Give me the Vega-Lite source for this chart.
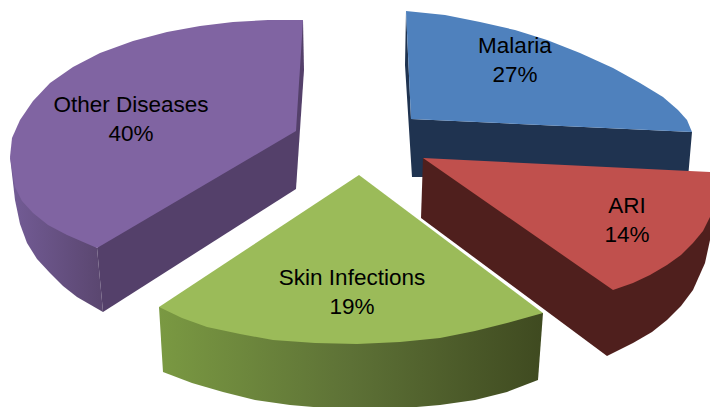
{
  "$schema": "https://vega.github.io/schema/vega-lite/v6.json",
  "width": 710,
  "height": 407,
  "padding": 0,
  "autosize": {"type": "none"},
  "background": "white",
  "config": {"view": {"stroke": null}},
  "datasets": {
    "faces": [
      {"face":"Malaria wall","seq":1,"x":406,"y":11},{"face":"Malaria wall","seq":2,"x":405,"y":65},{"face":"Malaria wall","seq":3,"x":412,"y":177},{"face":"Malaria wall","seq":4,"x":688,"y":178},{"face":"Malaria wall","seq":5,"x":692,"y":132},{"face":"Malaria wall","seq":6,"x":411,"y":119},

      {"face":"Malaria top","seq":1,"x":406,"y":11},{"face":"Malaria top","seq":2,"x":445,"y":15},{"face":"Malaria top","seq":3,"x":480,"y":22},{"face":"Malaria top","seq":4,"x":515,"y":30},{"face":"Malaria top","seq":5,"x":547,"y":40},{"face":"Malaria top","seq":6,"x":580,"y":53},{"face":"Malaria top","seq":7,"x":613,"y":68},{"face":"Malaria top","seq":8,"x":640,"y":83},{"face":"Malaria top","seq":9,"x":663,"y":97},{"face":"Malaria top","seq":10,"x":678,"y":110},{"face":"Malaria top","seq":11,"x":687,"y":120},{"face":"Malaria top","seq":12,"x":692,"y":132},{"face":"Malaria top","seq":13,"x":411,"y":119},

      {"face":"ARI wall","seq":1,"x":423,"y":158},{"face":"ARI wall","seq":2,"x":421,"y":218},{"face":"ARI wall","seq":3,"x":607,"y":356},{"face":"ARI wall","seq":4,"x":633,"y":343},{"face":"ARI wall","seq":5,"x":652,"y":332},{"face":"ARI wall","seq":6,"x":667,"y":320},{"face":"ARI wall","seq":7,"x":681,"y":306},{"face":"ARI wall","seq":8,"x":693,"y":290},{"face":"ARI wall","seq":9,"x":705,"y":263},{"face":"ARI wall","seq":10,"x":710,"y":240},{"face":"ARI wall","seq":11,"x":710,"y":200},

      {"face":"ARI top","seq":1,"x":423,"y":158},{"face":"ARI top","seq":2,"x":710,"y":172},{"face":"ARI top","seq":3,"x":710,"y":217},{"face":"ARI top","seq":4,"x":703,"y":231},{"face":"ARI top","seq":5,"x":693,"y":243},{"face":"ARI top","seq":6,"x":681,"y":255},{"face":"ARI top","seq":7,"x":667,"y":265},{"face":"ARI top","seq":8,"x":650,"y":275},{"face":"ARI top","seq":9,"x":633,"y":283},{"face":"ARI top","seq":10,"x":613,"y":290},

      {"face":"Other curved wall","seq":1,"x":10,"y":157},{"face":"Other curved wall","seq":2,"x":15,"y":200},{"face":"Other curved wall","seq":3,"x":20,"y":224},{"face":"Other curved wall","seq":4,"x":27,"y":243},{"face":"Other curved wall","seq":5,"x":37,"y":259},{"face":"Other curved wall","seq":6,"x":50,"y":273},{"face":"Other curved wall","seq":7,"x":63,"y":286},{"face":"Other curved wall","seq":8,"x":77,"y":297},{"face":"Other curved wall","seq":9,"x":103,"y":312},{"face":"Other curved wall","seq":10,"x":97,"y":248},

      {"face":"Other cut wall","seq":1,"x":97,"y":248},{"face":"Other cut wall","seq":2,"x":103,"y":312},{"face":"Other cut wall","seq":3,"x":296,"y":189},{"face":"Other cut wall","seq":4,"x":304,"y":70},{"face":"Other cut wall","seq":5,"x":303,"y":20},

      {"face":"Other top","seq":1,"x":303,"y":20},{"face":"Other top","seq":2,"x":268,"y":20},{"face":"Other top","seq":3,"x":233,"y":22},{"face":"Other top","seq":4,"x":200,"y":26},{"face":"Other top","seq":5,"x":167,"y":32},{"face":"Other top","seq":6,"x":133,"y":41},{"face":"Other top","seq":7,"x":100,"y":53},{"face":"Other top","seq":8,"x":73,"y":67},{"face":"Other top","seq":9,"x":50,"y":83},{"face":"Other top","seq":10,"x":33,"y":101},{"face":"Other top","seq":11,"x":20,"y":120},{"face":"Other top","seq":12,"x":12,"y":138},{"face":"Other top","seq":13,"x":10,"y":157},{"face":"Other top","seq":14,"x":15,"y":187},{"face":"Other top","seq":15,"x":22,"y":201},{"face":"Other top","seq":16,"x":33,"y":213},{"face":"Other top","seq":17,"x":48,"y":225},{"face":"Other top","seq":18,"x":67,"y":235},{"face":"Other top","seq":19,"x":97,"y":248},{"face":"Other top","seq":20,"x":296,"y":131},

      {"face":"Skin wall","seq":1,"x":159,"y":307},{"face":"Skin wall","seq":2,"x":163,"y":372},{"face":"Skin wall","seq":3,"x":192,"y":383},{"face":"Skin wall","seq":4,"x":223,"y":392},{"face":"Skin wall","seq":5,"x":255,"y":400},{"face":"Skin wall","seq":6,"x":290,"y":405},{"face":"Skin wall","seq":7,"x":325,"y":408},{"face":"Skin wall","seq":8,"x":365,"y":409},{"face":"Skin wall","seq":9,"x":405,"y":408},{"face":"Skin wall","seq":10,"x":440,"y":405},{"face":"Skin wall","seq":11,"x":475,"y":400},{"face":"Skin wall","seq":12,"x":507,"y":392},{"face":"Skin wall","seq":13,"x":538,"y":380},{"face":"Skin wall","seq":14,"x":543,"y":313},

      {"face":"Skin top","seq":1,"x":359,"y":175},{"face":"Skin top","seq":2,"x":159,"y":307},{"face":"Skin top","seq":3,"x":182,"y":318},{"face":"Skin top","seq":4,"x":207,"y":327},{"face":"Skin top","seq":5,"x":240,"y":334},{"face":"Skin top","seq":6,"x":273,"y":340},{"face":"Skin top","seq":7,"x":315,"y":343},{"face":"Skin top","seq":8,"x":357,"y":344},{"face":"Skin top","seq":9,"x":400,"y":342},{"face":"Skin top","seq":10,"x":440,"y":338},{"face":"Skin top","seq":11,"x":475,"y":331},{"face":"Skin top","seq":12,"x":507,"y":323},{"face":"Skin top","seq":13,"x":543,"y":313}
    ],
    "shares": [
      {"slice":"Malaria","share":27,"x":515,"y":46},
      {"slice":"ARI","share":14,"x":627,"y":206},
      {"slice":"Skin Infections","share":19,"x":352,"y":278},
      {"slice":"Other Diseases","share":40,"x":131,"y":105}
    ]
  },
  "encoding": {
    "x": {"field": "x", "type": "quantitative", "scale": {"domain": [0, 710], "nice": false, "zero": false}, "axis": null},
    "y": {"field": "y", "type": "quantitative", "scale": {"domain": [407, 0], "nice": false, "zero": false}, "axis": null}
  },
  "layer": [
    {
      "data": {"name": "faces"},
      "transform": [{"filter": "datum.face === 'Other curved wall'"}],
      "mark": {"type": "line", "strokeWidth": 0, "interpolate": "linear-closed", "fill": {"gradient": "linear", "x1": 0, "y1": 0, "x2": 1, "y2": 0, "stops": [{"offset": 0, "color": "#735c96"}, {"offset": 1, "color": "#5a466f"}]}},
      "encoding": {"order": {"field": "seq", "type": "quantitative"}}
    },
    {
      "data": {"name": "faces"},
      "transform": [{"filter": "datum.face === 'Skin wall'"}],
      "mark": {"type": "line", "strokeWidth": 0, "interpolate": "linear-closed", "fill": {"gradient": "linear", "x1": 0, "y1": 0, "x2": 1, "y2": 0, "stops": [{"offset": 0, "color": "#7a9942"}, {"offset": 0.5, "color": "#5d7136"}, {"offset": 1, "color": "#3f4a20"}]}},
      "encoding": {"order": {"field": "seq", "type": "quantitative"}}
    },
    {
      "data": {"name": "faces"},
      "transform": [{"filter": "datum.face !== 'Other curved wall' && datum.face !== 'Skin wall'"}],
      "mark": {"type": "line", "strokeWidth": 0, "interpolate": "linear-closed"},
      "encoding": {
        "order": {"field": "seq", "type": "quantitative"},
        "detail": {"field": "face"},
        "fill": {
          "field": "face",
          "type": "nominal",
          "legend": null,
          "scale": {
            "domain": ["Malaria wall", "Malaria top", "ARI wall", "ARI top", "Other cut wall", "Other top", "Skin top"],
            "range": ["#1f3350", "#4f81bd", "#4f1f1d", "#c0504d", "#54406a", "#8064a2", "#9bbb59"]
          }
        }
      }
    },
    {
      "data": {"name": "shares"},
      "transform": [{"calculate": "datum.slice + '\\n' + datum.share + '%'", "as": "caption"}],
      "mark": {"type": "text", "font": "Liberation Sans", "fontSize": 22.5, "lineBreak": "\n", "lineHeight": 29, "align": "center", "baseline": "middle", "color": "#000000"},
      "encoding": {"text": {"field": "caption"}}
    }
  ]
}
